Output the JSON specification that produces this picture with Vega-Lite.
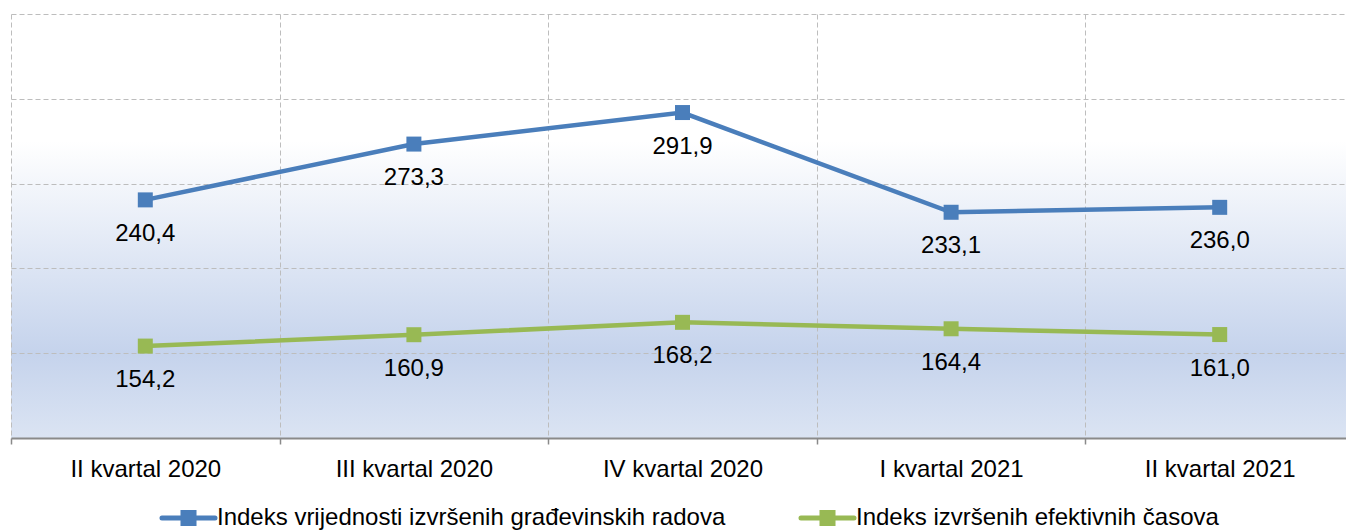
{
  "$schema": "https://vega.github.io/schema/vega-lite/v6.json",
  "width": 1335,
  "height": 424,
  "autosize": {"type": "none"},
  "padding": {"left": 11, "top": 14, "right": 0, "bottom": 92},
  "config": {
    "locale": {"number": {"decimal": ",", "thousands": ".", "grouping": [3], "currency": ["", ""]}},
    "font": "Liberation Sans",
    "view": {
      "stroke": null,
      "fill": {
        "gradient": "linear", "x1": 0, "y1": 0, "x2": 0, "y2": 1,
        "stops": [
          {"offset": 0, "color": "#ffffff"},
          {"offset": 0.3, "color": "#ffffff"},
          {"offset": 0.8, "color": "#c5d3ec"},
          {"offset": 1, "color": "#dbe4f3"}
        ]
      }
    }
  },
  "data": {
    "values": [
      {"kvartal": "II kvartal 2020", "serija": "Indeks vrijednosti izvršenih građevinskih radova", "vrijednost": 240.4},
      {"kvartal": "III kvartal 2020", "serija": "Indeks vrijednosti izvršenih građevinskih radova", "vrijednost": 273.3},
      {"kvartal": "IV kvartal 2020", "serija": "Indeks vrijednosti izvršenih građevinskih radova", "vrijednost": 291.9},
      {"kvartal": "I kvartal 2021", "serija": "Indeks vrijednosti izvršenih građevinskih radova", "vrijednost": 233.1},
      {"kvartal": "II kvartal 2021", "serija": "Indeks vrijednosti izvršenih građevinskih radova", "vrijednost": 236.0},
      {"kvartal": "II kvartal 2020", "serija": "Indeks izvršenih efektivnih časova", "vrijednost": 154.2},
      {"kvartal": "III kvartal 2020", "serija": "Indeks izvršenih efektivnih časova", "vrijednost": 160.9},
      {"kvartal": "IV kvartal 2020", "serija": "Indeks izvršenih efektivnih časova", "vrijednost": 168.2},
      {"kvartal": "I kvartal 2021", "serija": "Indeks izvršenih efektivnih časova", "vrijednost": 164.4},
      {"kvartal": "II kvartal 2021", "serija": "Indeks izvršenih efektivnih časova", "vrijednost": 161.0}
    ]
  },
  "encoding": {
    "x": {
      "field": "kvartal", "type": "ordinal", "sort": null, "bandPosition": 0.5,
      "scale": {"type": "band", "range": [0, 1343], "paddingInner": 0, "paddingOuter": 0},
      "axis": {
        "title": null, "grid": true, "tickBand": "extent",
        "gridDash": [5, 3], "gridColor": "#bdbdbd", "gridWidth": 1,
        "domainColor": "#8a8a8a", "domainWidth": 2,
        "tickColor": "#8a8a8a", "tickSize": 6, "tickWidth": 1.5,
        "labelFont": "Liberation Sans", "labelFontSize": 24, "labelColor": "#000000",
        "labelPadding": 13, "labelAngle": 0
      }
    },
    "y": {
      "field": "vrijednost", "type": "quantitative",
      "scale": {"domain": [100, 350], "nice": false, "zero": false},
      "axis": {
        "title": null, "grid": true, "values": [100, 150, 200, 250, 300, 350],
        "labels": false, "ticks": false, "domain": false,
        "gridDash": [5, 3], "gridColor": "#bdbdbd", "gridWidth": 1
      }
    },
    "color": {
      "field": "serija", "type": "nominal",
      "scale": {
        "domain": ["Indeks vrijednosti izvršenih građevinskih radova", "Indeks izvršenih efektivnih časova"],
        "range": ["#4a7ebb", "#98b954"]
      },
      "legend": {
        "orient": "none", "legendX": 146, "legendY": 472, "direction": "horizontal",
        "title": null,
        "symbolType": "M-0.914,0H0.914M-0.19,-0.19H0.19V0.19H-0.19Z",
        "symbolSize": 3364, "symbolStrokeWidth": 5,
        "labelFont": "Liberation Sans", "labelFontSize": 24, "labelColor": "#000000",
        "labelLimit": 1000, "labelOffset": -3, "columnPadding": 64, "padding": 0,
        "encode": {
          "symbols": {
            "update": {
              "fill": {"scale": "color", "field": "value"},
              "stroke": {"scale": "color", "field": "value"},
              "strokeCap": {"value": "round"},
              "opacity": {"value": 1}
            }
          }
        }
      }
    }
  },
  "layer": [
    {"mark": {"type": "line", "strokeWidth": 4.5}},
    {"mark": {"type": "point", "shape": "square", "filled": true, "size": 225, "opacity": 1}},
    {
      "mark": {"type": "text", "dy": 41, "baseline": "alphabetic", "fontSize": 24, "font": "Liberation Sans"},
      "encoding": {
        "text": {"field": "vrijednost", "type": "quantitative", "format": ".1f"},
        "color": {"value": "#000000"}
      }
    }
  ]
}
